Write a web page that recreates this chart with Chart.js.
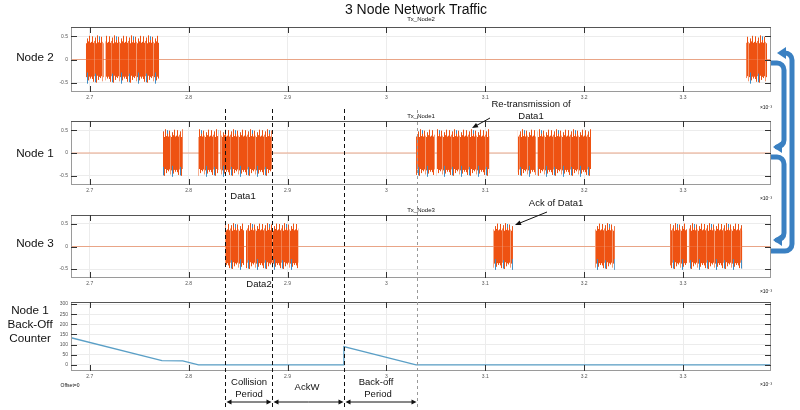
<!DOCTYPE html>
<html>
<head>
<meta charset="utf-8">
<script src="https://cdn.jsdelivr.net/npm/chart.js@4.4.1/dist/chart.umd.min.js"></script>
<style>
body { margin: 0; width: 800px; height: 410px; background: #fff; position: relative; overflow: hidden;
       font-family: "Liberation Sans", Arial, sans-serif; }
.wrap { position: absolute; }
.t { position: absolute; white-space: nowrap; line-height: 1; color: #111; transform: translate(-50%, -50%); }
#ov { position: absolute; left: 0; top: 0; }
</style>
</head>
<body>
<div class="wrap"><canvas id="c1"></canvas></div>
<div class="wrap"><canvas id="c2"></canvas></div>
<div class="wrap"><canvas id="c3"></canvas></div>
<div class="wrap"><canvas id="c4"></canvas></div>
<canvas id="ov" width="800" height="410"></canvas>
<script>
// time axis in units of 1e-3 s
var xTicks = [2.7, 2.8, 2.9, 3.0, 3.1, 3.2, 3.3];
var xRange = [2.681, 3.389];
var sigTicks = [-0.5, 0, 0.5];
var sigRange = [-0.7, 0.7];
var cntTicks = [0, 50, 100, 150, 200, 250, 300];
var cntRange = [-30, 310];

// transmission bursts [start, end]
var node2Bursts = [[2.696, 2.714], [2.716, 2.770], [3.364, 3.385]];
var node1Bursts = [[2.774, 2.794], [2.810, 2.830], [2.832, 2.884], [3.030, 3.049], [3.051, 3.104], [3.133, 3.151], [3.153, 3.207]];
var node3Bursts = [[2.837, 2.856], [2.858, 2.911], [3.108, 3.128], [3.211, 3.231], [3.287, 3.304], [3.306, 3.360]];

// node 1 back-off counter
var backoffX = [2.681, 2.773, 2.794, 2.810, 2.957, 2.957, 3.030, 3.389];
var backoffY = [134, 21, 20, 0, 0, 90, 0, 0];

// period markers
var periodMarks = [2.837, 2.884, 2.957];
var retxMark = 3.031;

var orange = '#ee5212';
var blue = '#3d8cc4';

// texture of the burst fill (style only)
var spikeTop = [0.38, 0.50, 0.36, 0.40, 0.47, 0.35, 0.52, 0.37, 0.42, 0.36, 0.49, 0.38, 0.35, 0.45, 0.39, 0.51, 0.36];
var spikeBot = [0.37, 0.42, 0.48, 0.36, 0.38, 0.50, 0.35, 0.44, 0.37, 0.40, 0.36, 0.47, 0.38, 0.35, 0.45, 0.37, 0.41];
var blueTop  = [0, 0, 0, 0, 0, 0, 0, 0, 0.50, 0, 0, 0, 0, 0, 0, 0, 0];
var blueBot  = [0, 0, 0, 0, 0.49, 0, 0, 0, 0, 0, 0, 0, 0, 0.52, 0, 0, 0];
var shade    = [orange, orange, orange, '#f3804f', orange, orange, orange, orange, orange, orange, orange, '#f59a72', orange, orange, orange, orange, orange];

function burstFill(context) {
  var chart = context.chart;
  if (!chart.chartArea) return orange;
  if (chart.$pat) return chart.$pat;
  var y = chart.scales.y;
  var y0 = y.getPixelForValue(0);
  var k = y0 - y.getPixelForValue(1);
  var tile = document.createElement('canvas');
  tile.width = spikeTop.length;
  tile.height = chart.height;
  var g = tile.getContext('2d');
  for (var i = 0; i < spikeTop.length; i++) {
    if (blueTop[i] || blueBot[i]) {
      g.fillStyle = blue;
      g.fillRect(i, y0 - Math.max(blueTop[i], spikeTop[i]) * k, 1, (Math.max(blueTop[i], spikeTop[i]) + Math.max(blueBot[i], spikeBot[i])) * k);
    }
    g.fillStyle = shade[i];
    g.fillRect(i, y0 - spikeTop[i] * k, 1, (spikeTop[i] + (blueBot[i] ? spikeBot[i] * 0.8 : spikeBot[i])) * k);
  }
  chart.$pat = chart.ctx.createPattern(tile, 'repeat-x');
  return chart.$pat;
}

function envelope(bursts, amp) {
  var pts = [];
  bursts.forEach(function (b) {
    pts.push({x: b[0], y: 0}, {x: b[0], y: amp}, {x: b[1], y: amp}, {x: b[1], y: 0});
  });
  return pts;
}

function signalSets(bursts) {
  return [
    {data: envelope(bursts, 0.55), fill: 'origin', backgroundColor: burstFill, borderWidth: 0, borderColor: 'rgba(0,0,0,0)'},
    {data: envelope(bursts, -0.55), fill: 'origin', backgroundColor: burstFill, borderWidth: 0, borderColor: 'rgba(0,0,0,0)'},
    {data: [{x: xRange[0], y: 0}, {x: xRange[1], y: 0}], borderColor: '#e9a587', borderWidth: 1, fill: false}
  ];
}

var frame = {
  id: 'frame',
  afterDraw: function (chart) {
    var a = chart.chartArea, c = chart.ctx, sx = chart.scales.x, sy = chart.scales.y;
    c.save();
    c.lineWidth = 1;
    c.strokeStyle = '#9a9a9a';
    c.strokeRect(a.left + 0.5, a.top + 0.5, a.width - 1, a.height - 1);
    c.strokeStyle = '#555';
    c.beginPath();
    c.moveTo(a.left, a.top + 0.5); c.lineTo(a.right, a.top + 0.5);
    c.stroke();
    c.strokeStyle = '#333';
    c.beginPath();
    sx.ticks.forEach(function (t) {
      var p = Math.round(sx.getPixelForValue(t.value)) + 0.5;
      c.moveTo(p, a.top); c.lineTo(p, a.top + 6);
      c.moveTo(p, a.bottom); c.lineTo(p, a.bottom - 6);
    });
    sy.ticks.forEach(function (t) {
      var p = Math.round(sy.getPixelForValue(t.value)) + 0.5;
      c.moveTo(a.left, p); c.lineTo(a.left + 6, p);
      c.moveTo(a.right, p); c.lineTo(a.right - 6, p);
    });
    c.stroke();
    c.restore();
  }
};

function makeChart(id, top, bottom, datasets, yRange, yTicks) {
  var cv = document.getElementById(id);
  var w = cv.parentNode;
  w.style.left = '40px';
  w.style.width = '760px';
  w.style.top = (top - 6) + 'px';
  w.style.height = (bottom - top + 6 + 14) + 'px';
  return new Chart(cv, {
    type: 'line',
    data: {datasets: datasets},
    options: {
      responsive: true,
      maintainAspectRatio: false,
      animation: false,
      events: [],
      layout: {padding: {top: 6, right: 29, left: 0, bottom: 0}},
      plugins: {legend: {display: false}, tooltip: {enabled: false}},
      elements: {point: {radius: 0}, line: {tension: 0}},
      scales: {
        x: {
          type: 'linear', min: xRange[0], max: xRange[1],
          afterBuildTicks: function (s) { s.ticks = xTicks.map(function (v) { return {value: v}; }); },
          afterFit: function (s) { s.height = 14; },
          grid: {color: '#ececec', drawTicks: false},
          border: {display: false},
          ticks: {font: {size: 5}, color: '#555', padding: 3, maxRotation: 0, autoSkip: false,
                  callback: function (v) { return String(+v.toFixed(1)); }}
        },
        y: {
          min: yRange[0], max: yRange[1],
          afterBuildTicks: function (s) { s.ticks = yTicks.map(function (v) { return {value: v}; }); },
          afterFit: function (s) { s.width = 31; },
          grid: {color: '#ececec', drawTicks: false},
          border: {display: false},
          ticks: {font: {size: 5}, color: '#555', padding: 3,
                  callback: function (v) { return String(v); }}
        }
      }
    },
    plugins: [frame]
  });
}

var charts = [
  makeChart('c1', 27, 92, signalSets(node2Bursts), sigRange, sigTicks),
  makeChart('c2', 121, 185, signalSets(node1Bursts), sigRange, sigTicks),
  makeChart('c3', 215, 278, signalSets(node3Bursts), sigRange, sigTicks),
  makeChart('c4', 302, 371, [{
    data: backoffX.map(function (x, i) { return {x: x, y: backoffY[i]}; }),
    borderColor: '#5a9fc6', borderWidth: 1.3, fill: false
  }], cntRange, cntTicks)
];

// labels
var notes = [
  ['Tx_Node2', 421, 19, 6],
  ['3 Node Network Traffic', 416, 9, 14],
  ['Tx_Node1', 421, 116, 6],
  ['Tx_Node3', 421, 210, 6],
  ['Node 2', 35, 57, 11.7],
  ['Node 1', 35, 153, 11.7],
  ['Node 3', 35, 243, 11.7],
  ['Node 1', 30, 310, 11.7],
  ['Back-Off', 30, 324, 11.7],
  ['Counter', 30, 338, 11.7],
  ['Re-transmission of', 531, 104, 9.5],
  ['Data1', 531, 116, 9.5],
  ['Ack of Data1', 556, 203, 9.5],
  ['Data1', 243, 196, 9.5],
  ['Data2', 259, 284, 9.5],
  ['Collision', 249, 382, 9.5],
  ['Period', 249, 394, 9.5],
  ['AckW', 307, 387, 9.5],
  ['Back-off', 376, 382, 9.5],
  ['Period', 378, 394, 9.5],
  ['\u00d710\u207b\u00b3', 766, 107, 5],
  ['\u00d710\u207b\u00b3', 766, 198, 5],
  ['\u00d710\u207b\u00b3', 766, 291, 5],
  ['\u00d710\u207b\u00b3', 766, 384, 5],
  ['Offset=0', 70, 385, 5]
];
notes.forEach(function (n) {
  var d = document.createElement('div');
  d.className = 't';
  d.textContent = n[0];
  d.style.left = n[1] + 'px';
  d.style.top = n[2] + 'px';
  d.style.fontSize = n[3] + 'px';
  document.body.appendChild(d);
});

// overlay: markers and arrows
var o = document.getElementById('ov').getContext('2d');
var sx = charts[1].scales.x;
function px(v) { return 40 + Math.round(sx.getPixelForValue(v)) + 0.5; }

o.lineWidth = 1;
o.setLineDash([4, 3]);
o.strokeStyle = '#111';
periodMarks.forEach(function (v) {
  o.beginPath(); o.moveTo(px(v), 109); o.lineTo(px(v), 410); o.stroke();
});
o.strokeStyle = '#999';
o.setLineDash([3, 3]);
o.beginPath(); o.moveTo(px(retxMark), 110); o.lineTo(px(retxMark), 410); o.stroke();
o.setLineDash([]);

function head(x, y, ux, uy, len, half, color) {
  o.fillStyle = color;
  o.beginPath();
  o.moveTo(x, y);
  o.lineTo(x - ux * len - uy * half, y - uy * len + ux * half);
  o.lineTo(x - ux * len + uy * half, y - uy * len - ux * half);
  o.closePath();
  o.fill();
}
function arrow(x1, y1, x2, y2, color, w, len, half) {
  var dx = x2 - x1, dy = y2 - y1, L = Math.hypot(dx, dy), ux = dx / L, uy = dy / L;
  o.strokeStyle = color; o.lineWidth = w;
  o.beginPath(); o.moveTo(x1, y1); o.lineTo(x2 - ux * len * 0.8, y2 - uy * len * 0.8); o.stroke();
  head(x2, y2, ux, uy, len, half, color);
}

// period spans
var spans = [[periodMarks[0], periodMarks[1]], [periodMarks[1], periodMarks[2]], [periodMarks[2], retxMark]];
spans.forEach(function (s) {
  var a = px(s[0]) + 1, b = px(s[1]) - 1;
  arrow((a + b) / 2, 402, a, 402, '#111', 1, 5, 2.5);
  arrow((a + b) / 2, 402, b, 402, '#111', 1, 5, 2.5);
});

// callouts
arrow(490, 118, 472, 128, '#111', 1, 6, 2.5);
arrow(547, 212, 515, 225, '#111', 1, 6, 2.5);

// blue flow arrows on the right
function bent(pts, color) {
  var n = pts.length, tip = pts[n - 1], prev = pts[n - 2];
  var dx = tip[0] - prev[0], dy = tip[1] - prev[1], L = Math.hypot(dx, dy), ux = dx / L, uy = dy / L;
  o.strokeStyle = color; o.lineWidth = 5; o.lineJoin = 'round';
  o.beginPath();
  o.moveTo(pts[0][0], pts[0][1]);
  for (var i = 1; i < n - 1; i++) o.arcTo(pts[i][0], pts[i][1], pts[i + 1][0], pts[i + 1][1], 7);
  o.lineTo(tip[0] - ux * 7, tip[1] - uy * 7);
  o.stroke();
  head(tip[0], tip[1], ux, uy, 9, 6, color);
}
var flow = '#3a80c2';
bent([[771, 63], [784, 63], [784, 147], [773, 147]], flow);
bent([[771, 157], [784, 157], [784, 240], [773, 240]], flow);
bent([[771, 251], [792, 251], [792, 53], [777, 53]], flow);
</script>
</body>
</html>
